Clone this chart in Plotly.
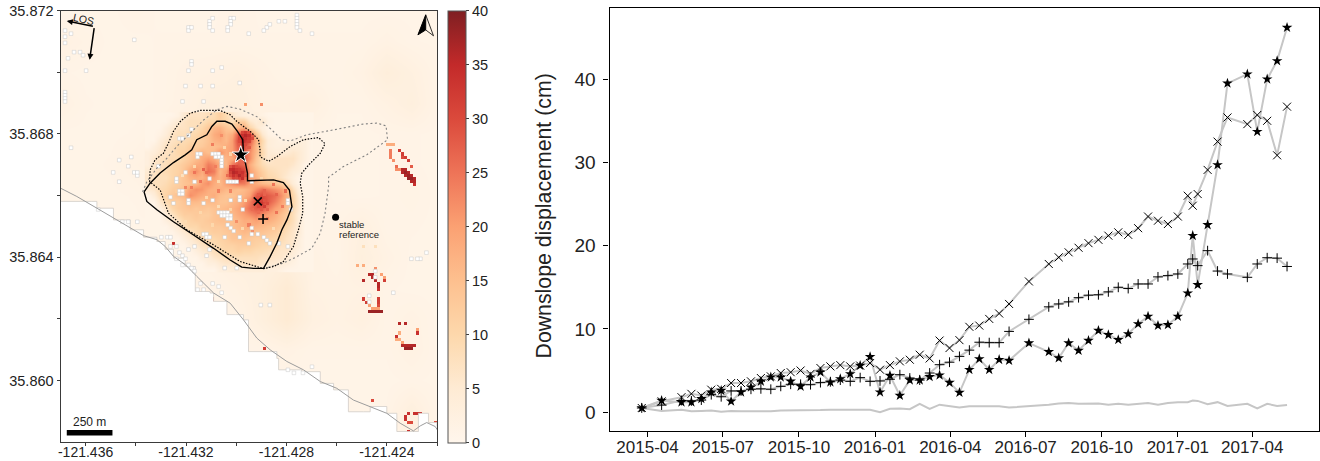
import numpy as np
import plotly.graph_objects as go

# ---------- time series ----------
dates = ["2015-03-25","2015-04-18","2015-05-12","2015-05-24","2015-06-05","2015-06-17","2015-06-29","2015-07-11",
"2015-07-23","2015-08-04","2015-08-16","2015-08-28","2015-09-09","2015-09-21","2015-10-03","2015-10-15","2015-10-27",
"2015-11-08","2015-11-20","2015-12-02","2015-12-14","2015-12-26","2016-01-07","2016-01-19","2016-01-31","2016-02-12",
"2016-02-24","2016-03-07","2016-03-19","2016-03-31","2016-04-12","2016-04-24","2016-05-06","2016-05-18","2016-05-30",
"2016-06-11","2016-07-05","2016-07-29","2016-08-10","2016-08-22","2016-09-03","2016-09-15","2016-09-27","2016-10-09",
"2016-10-21","2016-11-02","2016-11-14","2016-11-26","2016-12-08","2016-12-20","2017-01-01","2017-01-13","2017-01-19",
"2017-01-25","2017-02-06","2017-02-18","2017-03-02","2017-03-26","2017-04-07","2017-04-19","2017-05-01","2017-05-13"]
star_cm = [.5,1.4,1.2,1.2,1.6,2.4,2.6,1.3,2.4,3.0,3.7,4.2,4.2,3.7,3.1,4.2,4.8,3.6,4.0,4.6,5.6,6.65,2.4,4.4,2.0,3.85,3.85,
4.25,4.45,3.55,2.35,5.1,6.4,5.1,6.3,6.2,8.3,7.25,6.5,8.3,7.4,8.6,9.8,9.3,8.7,9.4,10.6,11.5,10.4,10.5,11.5,14.3,21.2,15.3,
22.5,29.7,39.5,40.6,33.7,40.0,42.2,46.2]
cross_cm = [.5,1.3,1.8,2.2,2.0,2.7,2.8,3.5,3.5,3.7,4.1,4.3,4.7,4.8,5.0,4.6,5.3,5.5,5.65,5.5,5.6,5.9,5.1,5.65,6.1,6.3,6.9,
6.45,8.6,7.7,8.65,10.25,10.4,11.2,11.85,13.0,15.7,17.8,18.6,19.2,19.75,20.3,20.7,21.2,21.6,21.3,22.1,23.5,23.0,22.6,23.5,
26.0,24.8,26.2,29.1,32.5,35.4,34.6,35.7,35.0,30.85,36.7]
plus_cm = [.5,.85,1.4,1.35,1.45,2.1,1.85,2.55,2.55,2.75,2.8,2.75,3.1,3.35,3.35,3.3,3.55,3.65,3.85,3.7,4.15,3.7,3.75,3.95,
4.5,4.1,3.85,4.7,5.7,6.0,6.7,7.45,8.4,8.35,8.35,9.7,11.15,12.65,13.0,13.25,13.75,14.05,14.1,14.45,15.0,14.85,15.4,15.4,
16.25,16.4,16.6,17.8,18.4,17.6,19.4,16.95,16.6,16.2,17.8,18.55,18.5,17.5]
stable_cm = [.5,.15,.3,.1,.15,.2,.05,.15,.1,.1,.1,.1,.2,.2,.25,.25,.25,.3,.3,.3,.3,.3,0,.4,.45,.35,1,.4,.9,.7,.55,.7,.7,.7,
.7,.55,.7,.9,1.05,1.1,1,1,1.05,.9,1,.9,1,1.1,.9,1.1,1.2,1.2,1.4,1.35,.95,1.2,.75,1.0,.45,1,.75,.85]
date_ticks = ["2015-04-01","2015-07-01","2015-10-01","2016-01-01","2016-04-01","2016-07-01","2016-10-01","2017-01-01","2017-04-01"]
date_labels = ["2015-04","2015-07","2015-10","2016-01","2016-04","2016-07","2016-10","2017-01","2017-04"]

# ---------- map raster: background values, one row per 0.001 deg of latitude (north to south) ----------
bg_vals = [
[1,1,1,1.5,1,1,1,1.5,1,1,1,1,1,1,1,1],
[2,1.5,1,1,1.2,1.2,1.2,1.2,1.2,1.2,1.2,1.2,1.2,1.8,1.2,1],
[1.2,1,1,1,1.2,1.8,2,2.5,1.8,1.2,1.2,1.2,1.8,3.5,2.5,1.2],
[2,1.2,1,1,1.2,2,3,3,2,2,2.5,1.2,1.2,2,3,1.2],
[1,1,1,1.2,2,3,3,3,3,2,1.2,1,1,1.2,1.2,1],
[1,1,1.2,2,2.5,3,3,3,3,2.5,1.5,1,1,1.2,1.2,1],
[1,1,1,1.2,2,3,3,3,3,3,1.5,1,1,1.2,1.5,1],
[1,1,1,1,1,2,3,4,3,2,1.2,1.5,2.5,1.2,1.2,1],
[1,1,1,1,1,1.2,2,3,2.5,3,2,1.2,3,1.8,1,1],
[1,1,1,1,1,1,1.2,2,3,5,2,1.8,2,1.2,1,1],
[1,1,1,1,1,1,1,1.2,3,5,2.5,1.8,2.5,1.2,1.8,1],
[1,1,1,1,1,1,1,1,1.2,1.8,1.2,1.2,1.2,1.2,2,1],
[1,1,1,1,1,1,1,1,1,1,1,1,1,1,1.2,1],
[1,1,1,1,1,1,1,1,1,1,1,1,1,1.2,3,1],
[1,1,1,1,1,1,1,1,1,1,1,1,1,1,1.2,1]]

# detailed displacement over the landslide (cm), north to south, west to east
slide_vals = [
[1,1,1,1,1,2,5,7,7,7,8,9,12,9,6,4,3,2,3,2,1,1,1,1,1,1,1,1],
[1,1,1,1,3,5,7,8,8,8,10,10,11,10,8,12,12,6,4,6,2,1,1,1,1,1,1,1],
[1,1,1,3,5,7,7,8,8,10,13,16,17,14,12,16,18,10,6,3,1,1,1,1,1,1,1,1],
[1,1,2,4,7,8,8,9,10,12,14,18,20,16,18,28,32,26,14,6,2,1,1,1,1,1,1,1],
[1,1,4,6,7,8,9,10,11,12,14,17,18,16,20,30,34,28,18,10,4,3,2,2,2,3,3,1],
[1,3,5,7,8,10,10,12,12,13,15,15,16,18,20,28,30,24,16,9,4,3,3,4,4,4,3,1],
[3,4,6,7,8,10,11,13,14,17,15,16,22,18,20,26,28,22,16,10,5,4,4,5,6,5,3,1],
[3,6,7,8,9,9,11,13,15,18,20,18,14,17,18,24,28,22,14,8,5,7,7,7,7,5,3,1],
[3,6,7,8,10,11,13,15,18,19,24,22,18,16,24,28,26,18,13,9,7,7,7,7,6,4,1,1],
[5,7,8,9,10,11,14,19,22,18,26,24,16,20,30,34,32,20,16,12,9,8,7,6,4,3,1,1],
[6,7,8,8,10,12,14,17,18,17,20,20,17,20,28,33,28,20,17,13,10,9,7,5,3,1,1,1],
[6,8,8,9,11,12,14,15,16,20,22,18,16,20,22,24,24,20,18,16,15,14,12,8,4,1,1,1],
[5,6,9,10,12,13,15,20,22,21,18,17,18,16,16,15,16,18,22,26,24,22,20,16,8,3,1,1],
[1,4,8,11,13,15,16,22,20,18,17,18,15,14,14,16,17,20,28,30,28,26,22,17,10,4,1,1],
[1,1,6,9,12,12,14,16,16,15,16,16,14,14,16,17,20,24,30,32,28,24,20,16,10,5,1,1],
[1,1,3,6,10,12,13,14,13,14,13,14,15,16,17,19,22,26,28,28,24,20,18,14,9,5,1,1],
[1,1,1,4,7,10,12,12,13,12,12,14,15,15,16,18,20,22,24,22,20,18,15,12,8,4,1,1],
[1,1,1,3,5,7,10,11,12,12,13,14,15,15,15,16,18,18,20,18,18,16,14,11,8,4,1,1],
[1,1,1,1,3,5,8,10,10,12,12,13,13,14,15,16,17,18,17,16,15,14,12,9,7,4,1,1],
[1,1,1,1,1,3,5,7,9,10,11,12,12,13,14,15,16,15,14,14,13,12,10,8,6,4,1,1],
[1,1,1,1,1,1,3,5,7,9,10,10,11,12,14,14,14,13,12,12,11,10,9,7,6,3,1,1],
[1,1,1,1,1,1,1,3,5,7,8,9,10,11,11,12,12,12,11,10,10,9,7,7,5,3,1,1],
[1,1,1,1,1,1,1,1,3,5,6,8,9,10,10,11,10,10,9,9,8,7,6,6,4,2,1,1],
[1,1,1,1,1,1,1,1,1,3,4,6,7,8,8,8,8,8,8,7,7,6,6,4,3,1,1,1],
[1,1,1,1,1,1,1,1,1,1,3,3,5,6,6,7,7,7,7,6,5,5,4,3,2,1,1,1],
[1,1,1,1,1,1,1,1,1,1,1,1,3,3,4,4,4,4,4,4,3,3,2,1,1,1,1,1]]

# isolated strong cells: (raster column, raster row, cm)
hot_cells = [
(113,51,36),(114,51,36),(113,52,36),(114,52,38),(115,52,36),(114,53,36),(115,53,38),(116,53,36),(115,54,38),(116,54,38),
(117,54,36),(116,55,36),(117,55,36),(117,56,34),(109,45,24),(109,46,24),(109,47,24),(110,48,22),(112,45,32),(113,46,32),
(113,47,30),(114,47,32),(115,48,32),(116,50,28),(111,50,26),(111,51,22),(112,51,22),(108,43,18),(109,43,18),(110,43,18),
(102,85,36),(103,85,36),(103,86,36),(104,86,36),(104,87,36),(105,88,36),(105,89,36),(105,90,34),(107,87,32),(106,85,20),
(107,86,20),(105,93,32),(105,94,32),(105,95,30),(100,87,36),(100,93,32),(101,94,32),(102,97,38),(103,97,38),(104,97,38),
(105,97,38),(106,97,38),(103,96,20),(104,96,20),(105,96,20),(102,95,20),(104,83,22),(98,82,18),(100,82,18),
(112,101,36),(114,101,36),(118,104,34),(111,105,34),(113,108,36),(114,108,36),(115,108,36),(116,108,36),(117,108,36),
(114,109,38),(115,109,38),(116,109,38),(112,104,18),(111,106,18),(112,106,18),(113,107,20),(118,103,20),
(3,62,30),(4,62,30),(5,62,30),(6,62,28),(37,75,34),(50,93,36),(50,94,36),(67,109,32),(103,126,30),(61,30,20),(66,30,22),
(115,130,34),(114,131,34),(114,132,34),(117,130,34),(118,130,34),(119,130,34),(115,133,30),(116,133,30),(115,136,34),
(124,133,30),(100,76,8),(104,76,8)]

# single-cell texture inside the landslide: (raster column, raster row, cm)
speckle_cells = [
(60,39,31),(61,39,33),(62,39,30),(59,40,30),(60,40,34),(61,40,36),(62,40,34),(63,40,28),(59,41,31),(60,41,36),(61,41,34),
(62,41,32),(63,41,30),(59,42,30),(60,42,35),(62,42,31),(59,43,28),(60,43,33),(61,43,30),(59,44,27),(60,44,31),(62,44,28),
(56,50,29),(57,50,32),(58,50,30),(59,51,32),(56,51,34),(57,51,35),(58,51,33),(60,52,34),(56,52,32),(57,52,36),(58,52,35),
(59,52,33),(56,53,30),(57,53,34),(59,53,36),(60,53,33),(61,53,30),(57,54,31),(58,54,30),(60,54,34),
(65,59,28),(66,60,30),(67,59,27),(65,61,31),(66,62,33),(67,61,29),(68,62,30),(65,63,30),(67,63,32),(66,64,28),(68,64,27),(65,65,26),
(48,52,26),(44,52,25),(47,51,27),(51,50,24),(53,40,22),(50,43,24),(55,53,26),(43,57,24),(46,55,25),(52,58,24),(56,58,23),
(63,64,26),(62,69,24),(63,71,22),(71,59,27),(74,58,26),(70,56,25),(67,58,27),(41,57,23),(58,68,22),(68,67,24),(71,65,25),
(73,63,24),(46,65,10),(41,68,9),(50,69,10),(56,64,11),(61,61,10),(52,55,10),(40,53,8),(56,46,11),(54,44,10),(66,54,10),
(48,60,10),(52,63,9),(60,70,10),(70,70,9),(44,50,10),(38,58,12),(72,55,12),(58,48,12)]

# no-data cells (raster column, raster row)
gap_cells = [
(42,5),(42,6),(43,5),(49,3),(49,4),(49,5),(50,2),(50,6),(56,2),(57,2),(56,3),(56,4),(55,5),(55,6),(68,5),(67,6),(69,4),
(72,3),(74,3),(78,1),(78,2),(78,3),(78,4),(78,5),(79,6),(83,7),(62,7),(24,9),(1,6),(1,8),(1,10),(3,7),(4,13),(6,13),(7,14),
(2,15),(8,19),(1,19),(1,26),(1,27),(1,28),(1,29),(43,16),(43,17),(42,19),(50,19),(53,18),(59,23),(41,24),(46,24),(50,24),
(40,29),(47,29),(3,44),(23,47),(19,48),(17,52),(19,55),(22,50),(24,52),(25,53),(25,52),(12,64),(20,68),(22,68),(25,68),
(33,73),(35,73),(36,76),(36,73),(38,76),(39,78),(40,79),(41,80),(38,80),(40,82),(42,82),(43,83),(44,84),(42,77),(44,76),
(46,88),(47,90),(50,88),(52,89),(53,91),(45,90),(49,77),(48,79),(54,83),(58,83),(66,95),(69,95),(110,91),(121,78),(119,80),
(116,80),(118,80),(104,84),(104,86),(102,94),(102,92),(83,115),(80,117),(75,116),(77,117),
(52,65),(53,65),(54,65),(55,65),(53,66),(54,66),(55,66),(56,66),(55,67),(56,67),(50,46),(51,46),(52,46),(53,47),(52,47),
(51,47),(53,48),(53,49),(53,50),(45,46),(45,47),(46,46),(55,55),(56,55),(57,55),(58,55),(39,58),(40,58),(39,59),(40,59),
(36,60),(37,62),(42,61),(42,62),(47,72),(48,72),(48,73),(49,73),(55,69),(56,70),(57,71),(67,73),(68,74),(69,75),(75,61),
(75,62),(76,64),(63,70),(63,72),(65,72),(59,60),(59,61),(60,64),(63,55),(63,53),(44,55),(38,55),(41,52),(49,54),(47,62),
(50,61),(54,73),(59,73),(62,75),(72,75),(75,76),(56,61),(43,38),(42,40),(39,41),(40,41),(32,50),(38,54)]

# ---------- map vectors, as 0.001 deg east and north of the SW map corner ----------
scarp_e = [3.33,3.57,3.97,4.50,4.97,5.23,5.43,5.83,6.03,6.23,6.56,6.83,7.05,7.26,7.29,7.36,7.45,7.45,7.95,8.49,8.88,9.12,9.22,9.02,8.82,8.62,8.35,8.09,7.69,7.22,6.76,6.10,5.30,4.50,3.84,3.44,3.33]
scarp_n = [8.12,8.40,8.73,9.07,9.32,9.48,9.81,9.97,10.24,10.41,10.41,10.32,10.08,9.81,9.37,9.05,8.72,8.48,8.50,8.51,8.42,8.18,7.64,7.21,6.89,6.46,6.02,5.64,5.64,5.68,5.91,6.29,6.72,7.15,7.54,7.81,8.12]
dotted_e = [3.55,3.57,3.77,4.10,4.30,4.50,4.77,5.17,5.56,6.36,6.76,7.03,7.56,7.89,7.95,7.95,8.29,8.62,9.15,9.68,10.28,10.54,10.35,9.88,9.61,9.55,9.65,9.65,9.48,9.28,8.88,8.49,8.09,7.16,6.10,5.03,4.30,4.10,3.97,3.55]
dotted_n = [8.45,8.83,9.16,9.37,9.70,10.08,10.40,10.67,10.76,10.76,10.62,10.40,10.08,9.81,9.48,9.26,9.11,9.26,9.59,9.81,9.88,9.68,9.37,8.99,8.72,8.40,7.97,7.43,6.89,6.35,5.86,5.70,5.63,5.86,6.40,6.89,7.43,7.86,8.18,8.45]
dashed_e = [3.27,3.44,3.84,4.24,4.63,5.17,5.70,6.23,6.63,7.16,7.82,8.35,8.82,9.15,9.81,10.88,12.07,12.60,12.97,13.03,12.20,11.27,10.68,10.68,10.54,10.35,10.01,9.42,8.88,8.09]
dashed_n = [8.12,8.45,8.89,9.21,9.59,10.02,10.45,10.78,10.89,10.80,10.56,10.18,9.81,9.77,9.97,10.13,10.32,10.35,10.26,9.81,9.32,8.94,8.59,8.29,7.43,6.78,6.29,6.02,5.81,5.63]
coast_e = [0,.65,1.45,2.11,2.78,3.31,3.84,4.17,4.50,4.97,5.43,6.10,6.76,7.29,7.82,8.35,9.02,9.68,10.35,11.01,11.67,12.34,13.00,13.53,14.06,14.33,14.59,14.93,15.19]
coast_n = [8.24,7.97,7.59,7.27,6.95,6.70,6.57,6.35,6.03,5.76,5.38,4.84,4.51,3.97,3.38,3.00,2.62,2.35,1.97,1.75,1.37,1.16,.94,.62,.37,.53,.64,.51,.18]
edge_e = [0,1.25,1.45,2.11,2.78,3.31,3.84,4.17,4.50,4.97,5.37,5.37,5.96,6.10,6.63,6.63,6.96,7.29,7.49,7.49,8.09,8.62,8.69,9.61,10.35,10.88,11.47,11.47,12.07,12.34,13.00,13.40,13.40,14.26,14.26,14.66,15]
edge_n = [7.81,7.81,7.59,7.21,6.89,6.65,6.51,6.26,5.97,5.70,5.32,4.89,4.84,4.57,4.51,4.14,4.14,3.97,3.54,2.94,2.94,2.72,2.35,2.29,1.91,1.70,1.48,.99,.99,1.16,.94,.62,.35,.35,.94,.64,.51]

W, S = -121.437, 35.858
lon = lambda e: [W + v / 1000 for v in e]
lat = lambda n: [S + v / 1000 for v in n]

# raster geometry
NCOL, NROW = 125, 140
DLON, DLAT = 0.12, 0.1   # mdeg per raster cell
col_lon = lambda c: W + (c + .5) * DLON / 1000
row_lat = lambda r: 35.872 - (r + .5) * DLAT / 1000

colorscale = [[0,"#FFF6EC"],[.125,"#FEEBD4"],[.25,"#FDD8AC"],[.375,"#FDC08F"],[.5,"#FBA173"],
              [.625,"#EE7458"],[.75,"#DB4A3C"],[.875,"#C32A2A"],[1,"#7F1F22"]]

FONT = "Liberation Sans, Arial, sans-serif"
W_PX, H_PX = 1320, 461
fig = go.Figure()
mx, my = "x", "y"
rx, ry = "x2", "y2"

# background
fig.add_trace(go.Heatmap(z=bg_vals, x=[W + i / 1000 for i in range(16)], y=[35.872 - i / 1000 for i in range(15)],
                         coloraxis="coloraxis", zsmooth="best", hoverinfo="skip", xaxis=mx, yaxis=my))
# landslide detail
fig.add_trace(go.Heatmap(z=slide_vals, x=[W + (29 + 2 * i) * DLON / 1000 for i in range(28)],
                         y=[35.872 - (34 + 2 * r) * DLAT / 1000 for r in range(26)], zsmooth="best",
                         coloraxis="coloraxis", hoverinfo="skip", xaxis=mx, yaxis=my))
# sparse strong cells and texture
hot = np.full((NROW, NCOL), np.nan)
for c, r, v in speckle_cells + hot_cells:
    hot[r, c] = v
fig.add_trace(go.Heatmap(z=hot, x=[col_lon(c) for c in range(NCOL)], y=[row_lat(r) for r in range(NROW)],
                         coloraxis="coloraxis", hoverinfo="skip", xaxis=mx, yaxis=my))
# land limit: white beyond it
fig.add_trace(go.Scatter(x=lon(edge_e + [15, 0]), y=lat(edge_n + [0, 0]), mode="lines", fill="toself",
                         fillcolor="white", line=dict(width=0, shape="hv"), hoverinfo="skip", xaxis=mx, yaxis=my))
fig.add_trace(go.Scatter(x=lon(edge_e), y=lat(edge_n), mode="lines", line=dict(color="#d2cdc8", width=.8, shape="hv"),
                         hoverinfo="skip", xaxis=mx, yaxis=my))
# gaps
fig.add_trace(go.Scatter(x=[col_lon(c) for c, r in gap_cells], y=[row_lat(r) for c, r in gap_cells], mode="markers",
                         marker=dict(symbol="square", size=3.6, color="white", line=dict(color="#c8c8c8", width=.5)),
                         hoverinfo="skip", xaxis=mx, yaxis=my))
# coast
fig.add_trace(go.Scatter(x=lon(coast_e), y=lat(coast_n), mode="lines", line=dict(color="#9c9c9c", width=1),
                         cliponaxis=False, hoverinfo="skip", xaxis=mx, yaxis=my))
fig.add_trace(go.Scatter(x=lon(dashed_e), y=lat(dashed_n), mode="lines", line=dict(color="#808080", width=1.1, dash="2px,2.5px"),
                         hoverinfo="skip", xaxis=mx, yaxis=my))
fig.add_trace(go.Scatter(x=lon(dotted_e), y=lat(dotted_n), mode="lines", line=dict(color="black", width=1.2, dash="1.5px,1.5px"),
                         hoverinfo="skip", xaxis=mx, yaxis=my))
fig.add_trace(go.Scatter(x=lon(scarp_e), y=lat(scarp_n), mode="lines", line=dict(color="black", width=1.4),
                         hoverinfo="skip", xaxis=mx, yaxis=my))
# monitored points
fig.add_trace(go.Scatter(x=lon([7.18]), y=lat([9.32]), mode="markers", marker=dict(symbol="star", size=13, color="black", line=dict(color="white", width=1)),
                         hoverinfo="skip", xaxis=mx, yaxis=my))
fig.add_trace(go.Scatter(x=lon([7.86]), y=lat([7.81]), mode="markers", marker=dict(symbol="x-thin", size=8, line=dict(color="black", width=1.6)),
                         hoverinfo="skip", xaxis=mx, yaxis=my))
fig.add_trace(go.Scatter(x=lon([8.07]), y=lat([7.24]), mode="markers", marker=dict(symbol="cross-thin", size=7, line=dict(color="black", width=1.6)),
                         hoverinfo="skip", xaxis=mx, yaxis=my))
fig.add_trace(go.Scatter(x=lon([10.96]), y=lat([7.30]), mode="markers", marker=dict(symbol="circle", size=7, color="black"),
                         hoverinfo="skip", xaxis=mx, yaxis=my))
# scale bar
fig.add_trace(go.Scatter(x=lon([.25, 2.07]), y=lat([.31, .31]), mode="lines", line=dict(color="black", width=5.5),
                         hoverinfo="skip", xaxis=mx, yaxis=my))
# north arrow
fig.add_trace(go.Scatter(x=lon([14.24, 14.55, 14.55, 14.24]), y=lat([13.21, 13.86, 13.37, 13.21]), mode="lines", fill="toself",
                         fillcolor="black", line=dict(color="black", width=1), hoverinfo="skip", xaxis=mx, yaxis=my))
fig.add_trace(go.Scatter(x=lon([14.55, 14.86, 14.55]), y=lat([13.86, 13.18, 13.37]), mode="lines",
                         line=dict(color="black", width=.8), hoverinfo="skip", xaxis=mx, yaxis=my))

# displacement series
for vals in (stable_cm, plus_cm, cross_cm, star_cm):
    fig.add_trace(go.Scatter(x=dates, y=vals, mode="lines", line=dict(color="#c6c6c6", width=2),
                             hoverinfo="skip", xaxis=rx, yaxis=ry))
fig.add_trace(go.Scatter(x=dates, y=plus_cm, mode="markers", marker=dict(symbol="cross-thin", size=7, line=dict(color="black", width=1)),
                         hoverinfo="skip", xaxis=rx, yaxis=ry))
fig.add_trace(go.Scatter(x=dates, y=cross_cm, mode="markers", marker=dict(symbol="x-thin", size=8, line=dict(color="black", width=1)),
                         hoverinfo="skip", xaxis=rx, yaxis=ry))
fig.add_trace(go.Scatter(x=dates, y=star_cm, mode="markers", marker=dict(symbol="star", size=8, color="black"),
                         hoverinfo="skip", xaxis=rx, yaxis=ry))

lon_ticks = [-121.436, -121.434, -121.432, -121.430, -121.428, -121.426, -121.424, -121.422]
lon_text = ["-121.436", "", "-121.432", "", "-121.428", "", "-121.424", ""]
lat_ticks = [35.860, 35.862, 35.864, 35.866, 35.868, 35.870, 35.872]
lat_text = ["35.860", "", "35.864", "", "35.868", "", "35.872"]

AX = "#3a3a3a"
fig.update_layout(
    width=W_PX, height=H_PX, margin=dict(l=0, r=0, t=0, b=0, autoexpand=False), paper_bgcolor="white", plot_bgcolor="white",
    showlegend=False, hovermode=False, font=dict(family=FONT, color="#222222"),
    coloraxis=dict(cmin=0, cmax=40, colorscale=colorscale,
                   colorbar=dict(x=447.7 / W_PX, xanchor="left", xpad=0, ypad=0, y=1 - 10.5 / H_PX, yanchor="top",
                                 len=431.5 / H_PX, lenmode="fraction", thickness=17.5, thicknessmode="pixels",
                                 tickvals=list(range(0, 41, 5)), ticks="outside", ticklen=3, tickcolor=AX,
                                 tickfont=dict(size=14.5, family=FONT, color="#222222"),
                                 outlinecolor="#555555", outlinewidth=1)),
    xaxis=dict(domain=[60.5 / W_PX, 437 / W_PX], range=[W, -121.422], tickvals=lon_ticks, ticktext=lon_text,
               ticks="outside", ticklen=3, tickcolor=AX, showgrid=False, zeroline=False, showline=True, linecolor=AX,
               linewidth=1, mirror=True, tickfont=dict(size=14, family=FONT, color="#222222"), anchor="y", ticklabelstandoff=-6),
    yaxis=dict(domain=[1 - 442.3 / H_PX, 1 - 10.5 / H_PX], range=[S, 35.872], tickvals=lat_ticks, ticktext=lat_text,
               ticks="outside", ticklen=3, tickcolor=AX, showgrid=False, zeroline=False, showline=True, linecolor=AX,
               linewidth=1, mirror=True, tickfont=dict(size=14.5, family=FONT, color="#222222"), anchor="x"),
    xaxis2=dict(domain=[609.5 / W_PX, 1319.3 / W_PX], type="date", range=["2015-02-14", "2017-06-21"], tickvals=date_ticks,
                ticktext=date_labels, ticks="outside", ticklen=5, tickcolor="black", showgrid=False, zeroline=False,
                showline=True, linecolor="black", linewidth=1.2, mirror=True, tickfont=dict(size=17, family=FONT, color="#222222"),
                anchor="y2", ticklabelstandoff=-5),
    yaxis2=dict(domain=[1 - 431.3 / H_PX, 1 - 8 / H_PX], range=[-2.3, 48.55], tickvals=[0, 10, 20, 30, 40],
                ticks="outside", ticklen=5, tickcolor="black", showgrid=False, zeroline=False, showline=True,
                linecolor="black", linewidth=1.2, mirror=True, tickfont=dict(size=19, family=FONT, color="#222222"),
                anchor="x2", ticklabelstandoff=4),
    annotations=[
        dict(x=543 / W_PX, y=1 - 216.5 / H_PX, xref="paper", yref="paper", text="Downslope displacement (cm)", textangle=-90,
             showarrow=False, font=dict(size=21.3, family=FONT, color="#222222")),
        dict(x=lon([.25])[0], y=lat([13.66])[0], ax=lon([1.35])[0], ay=lat([13.48])[0], xref="x", yref="y", axref="x", ayref="y",
             showarrow=True, arrowhead=2, arrowsize=.8, arrowwidth=1.5, arrowcolor="black", text=""),
        dict(x=lon([1.16])[0], y=lat([12.40])[0], ax=lon([1.35])[0], ay=lat([13.48])[0], xref="x", yref="y", axref="x", ayref="y",
             showarrow=True, arrowhead=2, arrowsize=.8, arrowwidth=1.5, arrowcolor="black", text=""),
        dict(x=lon([.92])[0], y=lat([13.72])[0], xref="x", yref="y", text="LOS", showarrow=False, textangle=12,
             font=dict(size=10.5, family=FONT, color="#222222")),
        dict(x=lon([1.16])[0], y=lat([.66])[0], xref="x", yref="y", text="250 m", showarrow=False,
             font=dict(size=12, family=FONT, color="#222222")),
        dict(x=lon([11.0])[0], y=lat([7.05])[0], xref="x", yref="y", text="stable", showarrow=False, xanchor="left",
             font=dict(size=9.5, family=FONT, color="#222222")),
        dict(x=lon([11.0])[0], y=lat([6.73])[0], xref="x", yref="y", text="reference", showarrow=False, xanchor="left",
             font=dict(size=9.5, family=FONT, color="#222222")),
    ],
)
fig.write_html("out.html", config={"displayModeBar": False}, post_script="document.body.style.margin='0';")
